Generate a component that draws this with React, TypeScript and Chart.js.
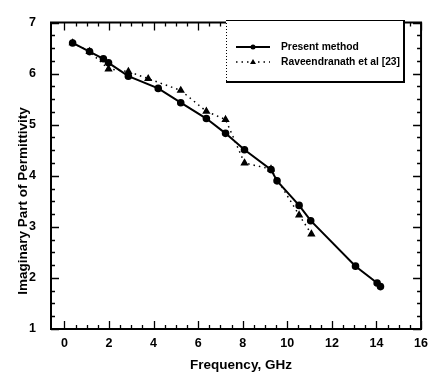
import React, { useEffect, useRef } from "react";
import { Chart, registerables } from "chart.js";

Chart.register(...registerables);

const presentX = [0.37, 1.13, 1.75, 1.98, 2.87, 4.21, 5.22, 6.37, 7.23, 8.08, 9.27, 9.54, 10.53, 11.05, 13.06, 14.03, 14.18];
const presentY = [6.6, 6.43, 6.29, 6.21, 5.95, 5.71, 5.43, 5.12, 4.83, 4.51, 4.12, 3.9, 3.42, 3.12, 2.23, 1.9, 1.83];

const raveX = [0.37, 1.13, 1.98, 2.87, 3.76, 5.22, 6.37, 7.23, 8.08, 9.27, 10.53, 11.08];
const raveY = [6.6, 6.43, 6.09, 6.04, 5.9, 5.67, 5.26, 5.1, 4.25, 4.13, 3.23, 2.86];

const xTickValues = [0, 2, 4, 6, 8, 10, 12, 14, 16];
const yTickValues = [1, 2, 3, 4, 5, 6, 7];
const seriesNames = ["Present method", "Raveendranath et al [23]"];
const xTitle = "Frequency, GHz";
const yTitle = "Imaginary Part of Permittivity";

const FONT = "'Liberation Sans', Arial, sans-serif";

const framePlugin = {
  id: "frameTicks",
  afterDraw(chart: any) {
    const { ctx, chartArea: a, scales } = chart;
    const xs = scales.x;
    const ys = scales.y;
    ctx.save();
    ctx.strokeStyle = "#000";
    ctx.lineWidth = 2;
    ctx.strokeRect(a.left, a.top, a.right - a.left, a.bottom - a.top);
    ctx.lineWidth = 1.3;
    ctx.beginPath();
    for (let v = 0; v <= 16.001; v += 0.5) {
      const px = Math.round(xs.getPixelForValue(v)) + 0.5;
      const major = Math.abs(v % 2) < 0.01;
      const len = major ? 8 : 4;
      ctx.moveTo(px, a.bottom);
      ctx.lineTo(px, a.bottom - len);
      ctx.moveTo(px, a.top);
      ctx.lineTo(px, a.top + len);
    }
    for (let v = 1; v <= 7.001; v += 0.25) {
      const py = Math.round(ys.getPixelForValue(v)) + 0.5;
      const major = Math.abs(v % 1) < 0.01;
      const len = major ? 8 : 4;
      ctx.moveTo(a.left, py);
      ctx.lineTo(a.left + len, py);
      ctx.moveTo(a.right, py);
      ctx.lineTo(a.right - len, py);
    }
    ctx.stroke();

    // axis titles
    ctx.fillStyle = "#000";
    ctx.font = `bold 13.5px ${FONT}`;
    ctx.textAlign = "center";
    ctx.textBaseline = "middle";
    ctx.fillText(xTitle, 241, 365);
    ctx.save();
    ctx.translate(23, 201);
    ctx.rotate(-Math.PI / 2);
    ctx.fillText(yTitle, 0, 0);
    ctx.restore();

    // legend
    const lx = 226, ly = 20, lw = 178, lh = 62;
    ctx.fillStyle = "#fff";
    ctx.fillRect(lx, ly, lw, lh);
    ctx.lineWidth = 1;
    ctx.setLineDash([1, 2]);
    ctx.beginPath();
    ctx.moveTo(lx + 0.5, ly);
    ctx.lineTo(lx + 0.5, ly + lh);
    ctx.stroke();
    ctx.setLineDash([]);
    ctx.beginPath();
    ctx.moveTo(lx, ly + 0.5);
    ctx.lineTo(lx + lw, ly + 0.5);
    ctx.stroke();
    ctx.lineWidth = 2;
    ctx.beginPath();
    ctx.moveTo(lx, ly + lh);
    ctx.lineTo(lx + lw, ly + lh);
    ctx.lineTo(lx + lw, ly);
    ctx.stroke();

    const rows = [ly + 27, ly + 42];
    ctx.lineWidth = 2;
    ctx.beginPath();
    ctx.moveTo(236, rows[0]);
    ctx.lineTo(270, rows[0]);
    ctx.stroke();
    ctx.fillStyle = "#000";
    ctx.beginPath();
    ctx.arc(253, rows[0], 2.5, 0, Math.PI * 2);
    ctx.fill();
    ctx.lineWidth = 1.5;
    ctx.setLineDash([1.5, 4]);
    ctx.beginPath();
    ctx.moveTo(236, rows[1]);
    ctx.lineTo(270, rows[1]);
    ctx.stroke();
    ctx.setLineDash([]);
    ctx.beginPath();
    ctx.moveTo(253, rows[1] - 3);
    ctx.lineTo(256, rows[1] + 2);
    ctx.lineTo(250, rows[1] + 2);
    ctx.closePath();
    ctx.fill();

    ctx.font = `bold 10.3px ${FONT}`;
    ctx.textBaseline = "middle";
    ctx.textAlign = "left";
    ctx.fillText(seriesNames[0], 281, rows[0]);
    ctx.fillText(seriesNames[1], 281, rows[1]);
    ctx.restore();
  },
};

export default function App() {
  const ref = useRef<HTMLCanvasElement | null>(null);
  useEffect(() => {
    document.body.style.margin = "0";
    const canvas = ref.current!;
    const chart = new Chart(canvas, {
      type: "scatter",
      data: {
        datasets: [
          {
            label: seriesNames[0],
            data: presentX.map((x, i) => ({ x, y: presentY[i] })),
            showLine: true,
            borderColor: "#000",
            backgroundColor: "#000",
            borderWidth: 2,
            pointRadius: 2.8,
            pointStyle: "circle",
          },
          {
            label: seriesNames[1],
            data: raveX.map((x, i) => ({ x, y: raveY[i] })),
            showLine: true,
            borderColor: "#000",
            backgroundColor: "#000",
            borderWidth: 1.5,
            borderDash: [1.5, 4],
            pointRadius: 3.3,
            pointStyle: "triangle",
          },
        ],
      },
      options: {
        animation: false,
        responsive: false,
        maintainAspectRatio: false,
        layout: { padding: { top: 13, right: 11, left: 0, bottom: 0 } },
        plugins: { legend: { display: false }, tooltip: { enabled: false } },
        scales: {
          x: {
            type: "linear",
            min: -0.6,
            max: 16,
            grid: { display: false, drawTicks: false },
            border: { display: false },
            afterBuildTicks: (s: any) => {
              s.ticks = xTickValues.map((v) => ({ value: v }));
            },
            afterFit: (s: any) => {
              s.height = 52;
            },
            ticks: {
              color: "#000",
              font: { family: FONT, size: 12.5, weight: "bold" },
              padding: 7,
              maxRotation: 0,
              autoSkip: false,
            },
            title: { display: false },
          },
          y: {
            type: "linear",
            min: 1,
            max: 7,
            grid: { display: false, drawTicks: false },
            border: { display: false },
            afterBuildTicks: (s: any) => {
              s.ticks = yTickValues.map((v) => ({ value: v }));
            },
            afterFit: (s: any) => {
              s.width = 51;
            },
            ticks: {
              color: "#000",
              font: { family: FONT, size: 12.5, weight: "bold" },
              padding: 15,
              autoSkip: false,
            },
            title: { display: false },
          },
        },
      },
      plugins: [framePlugin],
    });
    return () => chart.destroy();
  }, []);
  return (
    <div style={{ position: "relative", width: 435, height: 381 }}>
      <canvas ref={ref} width={435} height={381} style={{ display: "block" }} />
    </div>
  );
}
